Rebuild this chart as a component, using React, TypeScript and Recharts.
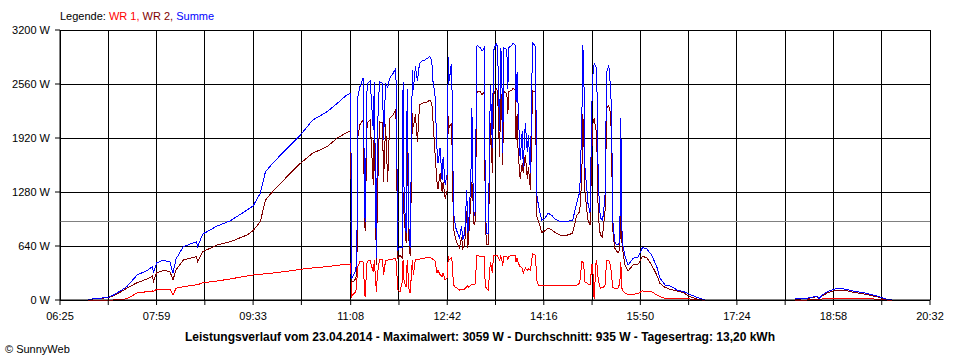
import { LineChart, Line, XAxis, YAxis, CartesianGrid, ReferenceLine } from 'recharts';

// Minutes since midnight for every sample
const times = [
  412, 420, 432, 437, 444, 450, 460, 470, 475, 476,
  479, 485, 492, 495, 498, 505, 518, 519, 524, 538,
  551, 567, 573, 580, 585, 592, 606, 619, 631, 645,
  655, 664, 668, 669, 671, 673, 674, 675, 677, 680,
  682, 684, 687, 690, 691, 693, 694, 696, 699, 700,
  702, 704, 706, 709, 712, 714, 716, 718, 719, 720,
  722, 723, 725, 726, 728, 729, 731, 733, 735, 737,
  740, 743, 745, 747, 748, 750, 752, 753, 755, 757,
  758, 760, 762, 763, 764, 766, 767, 768, 770, 772,
  774, 776, 777, 779, 781, 782, 783, 785, 786, 787,
  788, 789, 791, 794, 796, 798, 799, 800, 802, 804,
  806, 807, 809, 810, 811, 813, 814, 815, 816, 817,
  820, 821, 822, 825, 826, 828, 829, 830, 831, 833,
  835, 836, 838, 840, 841, 843, 845, 847, 848, 849,
  851, 854, 857, 860, 864, 867, 872, 879, 884, 888,
  891, 893, 894, 895, 896, 898, 899, 901, 903, 904,
  905, 907, 908, 909, 911, 913, 914, 916, 917, 919,
  920, 921, 922, 923, 925, 927, 928, 930, 931, 932,
  933, 935, 938, 943, 948, 952, 956, 961, 966, 969,
  974, 979, 986, 992, 998, 1005, 1010, 1013, 1050, 1101,
  1112, 1122, 1124, 1127, 1132, 1138, 1143, 1151, 1157, 1167,
  1177, 1185, 1190, 1195,
];

// WR 1 (W)
const wr1 = [
  0, 0, 0, 0, 4, 15, 83, 99, 108, 100,
  126, 128, 130, 59, 140, 158, 180, 180, 205, 225,
  250, 285, 296, 305, 310, 320, 340, 363, 380, 395,
  410, 425, 427, 40, 79, 90, 237, 400, 454, 454,
  40, 460, 465, 330, 470, 100, 300, 477, 474, 300,
  470, 470, 482, 485, 490, 118, 99, 200, 474, 220,
  150, 470, 90, 90, 474, 300, 480, 480, 485, 490,
  495, 506, 500, 495, 480, 470, 316, 350, 300, 277,
  320, 237, 260, 514, 480, 500, 440, 178, 150, 138,
  118, 125, 125, 130, 160, 170, 150, 178, 178, 178,
  178, 178, 533, 514, 514, 514, 178, 138, 120, 450,
  320, 530, 530, 530, 520, 470, 520, 500, 400, 520,
  520, 480, 520, 525, 530, 530, 450, 500, 440, 395,
  380, 316, 380, 350, 370, 350, 549, 540, 530, 237,
  170, 168, 168, 168, 168, 168, 170, 170, 170, 175,
  200, 454, 454, 400, 217, 200, 190, 178, 430, 300,
  10, 474, 400, 237, 140, 150, 150, 180, 474, 474,
  454, 400, 300, 150, 140, 140, 140, 190, 454, 140,
  110, 83, 65, 67, 79, 107, 103, 99, 59, 40,
  20, 20, 16, 16, 12, 8, 0, 0, null, 0,
  0, 4, 4, 12, 16, 20, 20, 16, 16, 14,
  12, 4, 0, 0,
];

// WR 2 (W)
const wr2 = [
  8, 14, 28, 50, 95, 140, 205, 250, 284, 217,
  320, 348, 340, 237, 360, 474, 514, 454, 573, 652,
  691, 770, 822, 928, 1185, 1284, 1462, 1620, 1740, 1817,
  1920, 1983, 2006, 220, 220, 260, 300, 1940, 2080, 2130,
  820, 2100, 2130, 1363, 2110, 420, 1200, 2110, 2100, 1400,
  2090, 1400, 2150, 2190, 2260, 500, 530, 500, 1280, 1000,
  680, 1900, 560, 540, 2220, 2050, 2200, 1876, 2310, 2330,
  2340, 2350, 2370, 2330, 2150, 1758, 1400, 1320, 1500, 1280,
  1400, 1200, 1300, 2180, 2040, 2100, 1700, 850, 730, 660,
  620, 750, 610, 660, 1050, 620, 780, 1180, 1400, 1200,
  900, 889, 2470, 2470, 2430, 2470, 1110, 652, 652, 2100,
  1500, 2430, 2490, 2500, 2470, 1700, 2470, 2380, 1600, 2470,
  2450, 2200, 2470, 2490, 2510, 2490, 1900, 2200, 1750, 1440,
  1620, 1500, 1720, 1440, 1580, 1300, 2480, 2470, 2460, 1000,
  930, 800, 820, 850, 830, 800, 770, 770, 790, 1000,
  1047, 1446, 2200, 1900, 1300, 1047, 950, 889, 1850, 2113,
  2150, 2000, 1700, 1000, 770, 750, 860, 1100, 2275, 2300,
  2275, 2200, 1900, 850, 616, 580, 560, 590, 1200, 700,
  573, 420, 344, 415, 427, 514, 505, 415, 296, 197,
  150, 126, 107, 87, 40, 12, 0, 0, null, 8,
  16, 40, 12, 47, 83, 107, 118, 111, 92, 73,
  47, 24, 8, 0,
];

// Summe (W)
const summe = [
  8, 16, 32, 59, 110, 158, 296, 350, 395, 320,
  438, 474, 450, 320, 486, 632, 691, 632, 782, 877,
  940, 1066, 1114, 1264, 1520, 1620, 1797, 1955, 2133, 2231,
  2331, 2429, 2449, 261, 300, 350, 533, 2410, 2528, 2630,
  930, 2560, 2600, 2015, 2580, 494, 2000, 2587, 2570, 1900,
  2560, 2520, 2630, 2680, 2749, 593, 630, 620, 2587, 1221,
  794, 2500, 650, 632, 2726, 2488, 2768, 2600, 2805, 2830,
  2844, 2867, 2890, 2830, 2600, 2450, 1800, 1620, 1800, 1422,
  1700, 1363, 1500, 2883, 2600, 2800, 2330, 1047, 869, 794,
  735, 880, 711, 790, 1300, 790, 930, 1422, 2275, 1422,
  1050, 1000, 3022, 2990, 2950, 2990, 1284, 794, 794, 2548,
  1800, 2950, 3022, 3040, 2990, 2000, 2990, 2880, 1738, 2990,
  2970, 2500, 2990, 3022, 3046, 3022, 2350, 2700, 2300, 1659,
  2000, 1580, 2100, 1750, 1950, 1501, 3046, 3022, 2990, 1264,
  1106, 948, 963, 1030, 1000, 960, 928, 935, 940, 1146,
  1284, 2074, 3022, 2706, 1580, 1300, 1146, 1030, 2390, 2706,
  2800, 2760, 2400, 1400, 972, 948, 1010, 1300, 2700, 2765,
  2730, 2450, 2300, 972, 691, 652, 652, 691, 2157, 850,
  652, 520, 415, 494, 510, 620, 610, 533, 395, 261,
  178, 166, 118, 100, 67, 32, 12, 0, null, 12,
  20, 47, 16, 59, 99, 126, 138, 126, 107, 87,
  59, 28, 8, 0,
];

// x grid every 47 min, labels on every second one
const gridTimes = [385, 432, 479, 526, 573, 620, 668, 715, 762, 809, 856, 903, 950, 997, 1044, 1091, 1138, 1185, 1232];
const labelTimes = [385, 479, 573, 668, 762, 856, 950, 1044, 1138, 1232];
const timeLabels = ['06:25', '07:59', '09:33', '11:08', '12:42', '14:16', '15:50', '17:24', '18:58', '20:32'];
const powerTicks = [0, 640, 1280, 1920, 2560, 3200];
const average = 935;

const data = times.map((t, i) => ({ t, wr1: wr1[i], wr2: wr2[i], summe: summe[i] }));

const font = "'Liberation Sans', Arial, sans-serif";

function formatTime(v: number) {
  const i = labelTimes.indexOf(v);
  return i >= 0 ? timeLabels[i] : '';
}

export default function App() {
  return (
    <div style={{ position: 'absolute', left: 0, top: 0, width: 960, height: 360, background: '#fff', fontFamily: font }}>
      <div style={{ position: 'absolute', left: 60, top: 10, fontSize: 11, lineHeight: '13px', whiteSpace: 'nowrap' }}>
        <span style={{ color: '#000' }}>Legende: </span>
        <span style={{ color: '#ff0000' }}>WR 1, </span>
        <span style={{ color: '#800000' }}>WR 2, </span>
        <span style={{ color: '#0000ff' }}>Summe</span>
      </div>
      <LineChart
        width={960}
        height={360}
        data={data}
        margin={{ top: 30, right: 30, left: 0, bottom: 30 }}
      >
        <CartesianGrid stroke="#000" strokeWidth={1} shapeRendering="crispEdges" />
        <XAxis
          dataKey="t"
          type="number"
          domain={[385, 1232]}
          ticks={gridTimes}
          interval={0}
          height={30}
          tickSize={5}
          tickMargin={7}
          tickFormatter={formatTime}
          stroke="#000"
          tick={{ fill: '#000', fontSize: 11, fontFamily: font }}
          allowDataOverflow
        />
        <YAxis
          domain={[0, 3200]}
          ticks={powerTicks}
          width={60}
          tickSize={5}
          tickMargin={5}
          tickFormatter={(v: number) => `${v} W`}
          stroke="#000"
          tick={{ fill: '#000', fontSize: 11, fontFamily: font }}
        />
        <ReferenceLine y={average} stroke="#808080" strokeWidth={1} shapeRendering="crispEdges" />
        <Line type="linear" dataKey="wr1" stroke="#ff0000" strokeWidth={1} dot={false} activeDot={false} isAnimationActive={false} shapeRendering="crispEdges" />
        <Line type="linear" dataKey="wr2" stroke="#800000" strokeWidth={1} dot={false} activeDot={false} isAnimationActive={false} shapeRendering="crispEdges" />
        <Line type="linear" dataKey="summe" stroke="#0000ff" strokeWidth={1} dot={false} activeDot={false} isAnimationActive={false} shapeRendering="crispEdges" />
      </LineChart>
      <div style={{ position: 'absolute', left: 0, top: 330, width: 960, textAlign: 'center', fontSize: 12, fontWeight: 'bold', lineHeight: '14px' }}>
        Leistungsverlauf vom 23.04.2014 - Maximalwert: 3059 W - Durchschnitt: 935 W - Tagesertrag: 13,20 kWh
      </div>
      <div style={{ position: 'absolute', left: 5, top: 343, fontSize: 11, lineHeight: '13px' }}>
        © SunnyWeb
      </div>
    </div>
  );
}
